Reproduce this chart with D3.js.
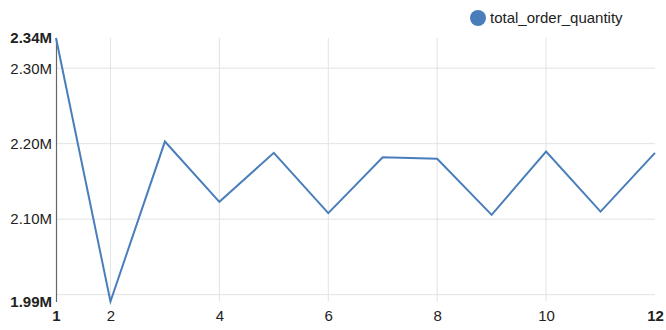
<!doctype html>
<html lang="en">
<head>
    <meta charset="UTF-8" />
    <script src="https://d3js.org/d3.v7.min.js"></script>
    <title>total_order_quantity</title>
    <style>
        body { margin: 0; background: #fff; }
        text { font-family: "Liberation Sans", Arial, sans-serif; }
    </style>
</head>
<body>
    <div id="chart"></div>
    <script>
        // Data
        const months = [1, 2, 3, 4, 5, 6, 7, 8, 9, 10, 11, 12]
        const quantities = [2340000, 1990900, 2202800, 2122900, 2187800, 2108000,
            2182000, 2180000, 2105700, 2189500, 2110000, 2187800]
        const yTicks = [2000000, 2100000, 2200000, 2300000]
        const xTicks = [2, 4, 6, 8, 10]
        const seriesName = "total_order_quantity"

        const W = 666, H = 330
        const margin = { top: 38, right: 11, bottom: 28.5, left: 56 }
        const color = "#4a7ebb"

        const svg = d3.select("#chart").append("svg")
            .attr("width", W).attr("height", H)

        const x = d3.scaleLinear()
            .domain(d3.extent(months))
            .range([margin.left, W - margin.right])
        const y = d3.scaleLinear()
            .domain(d3.extent(quantities))
            .range([H - margin.bottom, margin.top])

        const fmt = v => (v / 1e6).toFixed(2) + "M"

        // Gridlines
        svg.append("g")
            .selectAll("line.h")
            .data(yTicks)
            .join("line")
            .attr("x1", margin.left).attr("x2", W - margin.right)
            .attr("y1", d => y(d)).attr("y2", d => y(d))
            .attr("stroke", "#e3e3e3")
        svg.append("g")
            .selectAll("line.v")
            .data(xTicks)
            .join("line")
            .attr("x1", d => x(d)).attr("x2", d => x(d))
            .attr("y1", margin.top).attr("y2", H - margin.bottom)
            .attr("stroke", "#e3e3e3")

        // Y axis
        const yAxis = svg.append("g")
            .attr("transform", `translate(${margin.left},0)`)
            .call(d3.axisLeft(y)
                .tickValues([...yTicks.filter(t => t > 2050000), ...d3.extent(quantities)])
                .tickSize(0).tickPadding(4).tickFormat(fmt))
        yAxis.select(".domain").attr("stroke", "#666").attr("stroke-width", 1.2)
        yAxis.selectAll("text")
            .attr("font-size", 15).attr("fill", "#222")
            .attr("font-weight", d => d3.extent(quantities).includes(d) ? "bold" : null)

        // X axis
        const xAxis = svg.append("g")
            .attr("transform", `translate(0,${H - margin.bottom})`)
            .call(d3.axisBottom(x)
                .tickValues([...xTicks, ...d3.extent(months)])
                .tickSize(0).tickPadding(9).tickFormat(d3.format("d")))
        xAxis.select(".domain").remove()
        xAxis.selectAll("text")
            .attr("font-size", 15).attr("fill", "#222")
            .attr("font-weight", d => d3.extent(months).includes(d) ? "bold" : null)

        // Line
        const line = d3.line()
            .x((d, i) => x(months[i]))
            .y(d => y(d))
        svg.append("path")
            .datum(quantities)
            .attr("fill", "none")
            .attr("stroke", color)
            .attr("stroke-width", 2)
            .attr("stroke-linejoin", "miter")
            .attr("d", line)

        // Legend
        const legend = svg.append("g").attr("transform", "translate(478,18)")
        legend.append("circle").attr("r", 8).attr("fill", color)
        legend.append("text")
            .attr("x", 12).attr("dy", "0.35em")
            .attr("font-size", 15).attr("fill", "#222")
            .text(seriesName)
    </script>
</body>
</html>
